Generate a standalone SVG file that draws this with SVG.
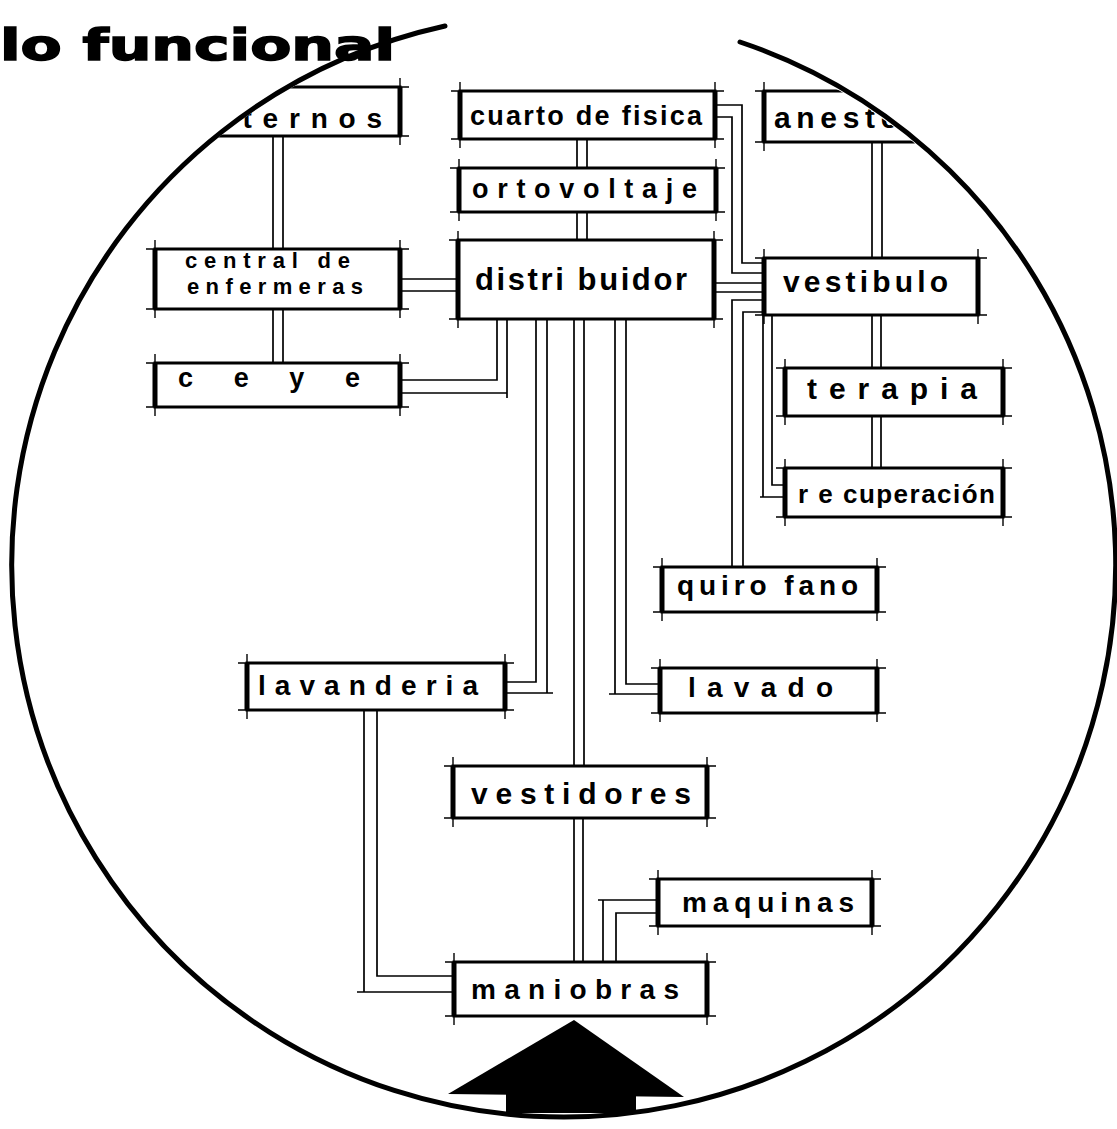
<svg xmlns="http://www.w3.org/2000/svg" width="1117" height="1129" viewBox="0 0 1117 1129">
<style>
.box{fill:#fff;stroke:#000;stroke-width:3}
.side{fill:none;stroke:#000;stroke-width:5}
.tick{fill:none;stroke:#000;stroke-width:1.4}
.wire{fill:none;stroke:#000;stroke-width:1.7}
.lbl{font-family:"Liberation Sans",Arial,sans-serif;font-weight:bold;fill:#000}
.title{font-family:"DejaVu Sans","Liberation Sans",sans-serif;font-weight:bold;fill:#000;stroke:#000;stroke-width:1.5}
</style>
<defs>
<clipPath id="inCircle"><circle cx="563" cy="565" r="549"/></clipPath>
</defs>
<rect x="0" y="0" width="1117" height="1129" fill="#fff"/>

<g id="connectors">
<path class="wire" d="M273 136V249M283 136V249"/>
<path class="wire" d="M273 309V363M283 309V363"/>
<path class="wire" d="M400 279H458M400 291H458"/>
<path class="wire" d="M577 139V168M587 139V168"/>
<path class="wire" d="M577 212V240M587 212V240"/>
<path class="wire" d="M715 105H742V263H764M715 117H732V273H764"/>
<path class="wire" d="M714 283H764M714 292H764"/>
<path class="wire" d="M764 300H732V567M764 312H743V567"/>
<path class="wire" d="M872 142V258M882 142V258"/>
<path class="wire" d="M872 315V368M881 315V368"/>
<path class="wire" d="M872 416V468M881 416V468"/>
<path class="wire" d="M772 315V485H785M763 315V497H785M760 497H763"/>
<path class="wire" d="M497 319V380H400M507 319V393H400M507 393V398"/>
<path class="wire" d="M536 319V682H505M547 319V693H505M547 693H553"/>
<path class="wire" d="M574 319V766M584 319V766"/>
<path class="wire" d="M615 319V694H660M626 319V684H660M609 694H615"/>
<path class="wire" d="M574 818V962M583 818V962"/>
<path class="wire" d="M658 900H603V962M658 913H616V962M598 900H603"/>
<path class="wire" d="M377 710V976H454M364 710V992H454M357 992H364"/>
</g>

<g id="node-internos" clip-path="url(#inCircle)">
<rect class="box" x="160" y="87" width="240" height="49"/>
<path class="tick" d="M151 87H409M151 136H409M160 78V145M400 78V145"/>
<path class="side" d="M160 87V136M400 87V136"/>
<text class="lbl" x="196" y="128" font-size="28" textLength="186" lengthAdjust="spacing">internos</text>
</g>

<g id="node-cuarto">
<rect class="box" x="460" y="91" width="255" height="48"/>
<path class="tick" d="M451 91H724M451 139H724M460 82V148M715 82V148"/>
<path class="side" d="M460 91V139M715 91V139"/>
<text class="lbl" x="470" y="125" font-size="27" textLength="232" lengthAdjust="spacing">cuarto de fisica</text>
</g>

<g id="node-ortovoltaje">
<rect class="box" x="459" y="168" width="257" height="44"/>
<path class="tick" d="M450 168H725M450 212H725M459 159V221M716 159V221"/>
<path class="side" d="M459 168V212M716 168V212"/>
<text class="lbl" x="472" y="198" font-size="27" textLength="225" lengthAdjust="spacing">ortovoltaje</text>
</g>

<g id="node-distribuidor">
<rect class="box" x="458" y="240" width="256" height="79"/>
<path class="tick" d="M449 240H723M449 319H723M458 231V328M714 231V328"/>
<path class="side" d="M458 240V319M714 240V319"/>
<text class="lbl" x="475" y="290" font-size="31" textLength="212" lengthAdjust="spacing">distri buidor</text>
</g>

<g id="node-anestesia" clip-path="url(#inCircle)">
<rect class="box" x="764" y="91" width="246" height="51"/>
<path class="tick" d="M755 91H1019M755 142H1019M764 82V151M1010 82V151"/>
<path class="side" d="M764 91V142M1010 91V142"/>
<text class="lbl" x="774" y="128" font-size="30" textLength="182" lengthAdjust="spacing">anestesia</text>
</g>

<g id="node-vestibulo">
<rect class="box" x="764" y="258" width="214" height="57"/>
<path class="tick" d="M755 258H987M755 315H987M764 249V324M978 249V324"/>
<path class="side" d="M764 258V315M978 258V315"/>
<text class="lbl" x="783" y="292" font-size="30" textLength="165" lengthAdjust="spacing">vestibulo</text>
</g>

<g id="node-terapia">
<rect class="box" x="785" y="368" width="218" height="48"/>
<path class="tick" d="M776 368H1012M776 416H1012M785 359V425M1003 359V425"/>
<path class="side" d="M785 368V416M1003 368V416"/>
<text class="lbl" x="807" y="399" font-size="30" textLength="170" lengthAdjust="spacing">terapia</text>
</g>

<g id="node-recuperacion">
<rect class="box" x="785" y="468" width="218" height="49"/>
<path class="tick" d="M776 468H1012M776 517H1012M785 459V526M1003 459V526"/>
<path class="side" d="M785 468V517M1003 468V517"/>
<text class="lbl" x="798" y="503" font-size="26" textLength="197" lengthAdjust="spacing">r e cuperación</text>
</g>

<g id="node-central">
<rect class="box" x="155" y="249" width="245" height="60"/>
<path class="tick" d="M146 249H409M146 309H409M155 240V318M400 240V318"/>
<path class="side" d="M155 249V309M400 249V309"/>
<text class="lbl" x="185" y="268" font-size="22" textLength="165" lengthAdjust="spacing">central de</text>
<text class="lbl" x="187" y="294" font-size="22" textLength="176" lengthAdjust="spacing">enfermeras</text>
</g>

<g id="node-ceye">
<rect class="box" x="155" y="363" width="245" height="44"/>
<path class="tick" d="M146 363H409M146 407H409M155 354V416M400 354V416"/>
<path class="side" d="M155 363V407M400 363V407"/>
<text class="lbl" x="178" y="387" font-size="27" textLength="182" lengthAdjust="spacing">c e y e</text>
</g>

<g id="node-quirofano">
<rect class="box" x="662" y="567" width="215" height="45"/>
<path class="tick" d="M653 567H886M653 612H886M662 558V621M877 558V621"/>
<path class="side" d="M662 567V612M877 567V612"/>
<text class="lbl" x="677" y="595" font-size="28" textLength="181" lengthAdjust="spacing">quiro fano</text>
</g>

<g id="node-lavado">
<rect class="box" x="660" y="668" width="217" height="45"/>
<path class="tick" d="M651 668H886M651 713H886M660 659V722M877 659V722"/>
<path class="side" d="M660 668V713M877 668V713"/>
<text class="lbl" x="688" y="697" font-size="28" textLength="145" lengthAdjust="spacing">lavado</text>
</g>

<g id="node-lavanderia">
<rect class="box" x="247" y="663" width="258" height="47"/>
<path class="tick" d="M238 663H514M238 710H514M247 654V719M505 654V719"/>
<path class="side" d="M247 663V710M505 663V710"/>
<text class="lbl" x="258" y="695" font-size="28" textLength="220" lengthAdjust="spacing">lavanderia</text>
</g>

<g id="node-vestidores">
<rect class="box" x="453" y="766" width="254" height="52"/>
<path class="tick" d="M444 766H716M444 818H716M453 757V827M707 757V827"/>
<path class="side" d="M453 766V818M707 766V818"/>
<text class="lbl" x="471" y="804" font-size="30" textLength="220" lengthAdjust="spacing">vestidores</text>
</g>

<g id="node-maquinas">
<rect class="box" x="658" y="879" width="214" height="47"/>
<path class="tick" d="M649 879H881M649 926H881M658 870V935M872 870V935"/>
<path class="side" d="M658 879V926M872 879V926"/>
<text class="lbl" x="682" y="912" font-size="28" textLength="172" lengthAdjust="spacing">maquinas</text>
</g>

<g id="node-maniobras">
<rect class="box" x="454" y="962" width="253" height="54"/>
<path class="tick" d="M445 962H716M445 1016H716M454 953V1025M707 953V1025"/>
<path class="side" d="M454 962V1016M707 962V1016"/>
<text class="lbl" x="471" y="999" font-size="28" textLength="208" lengthAdjust="spacing">maniobras</text>
</g>

<g id="entry-arrow">
<polygon points="574,1020 448,1094 684,1097" fill="#000"/>
<rect x="506" y="1093" width="130" height="20" fill="#000"/>
</g>

<g id="boundary">
<path d="M740 42A552 552 0 1 1 445 26" fill="none" stroke="#000" stroke-width="5" stroke-linecap="round"/>
</g>

<g id="title">
<text class="title" x="0" y="60" font-size="42" textLength="395" lengthAdjust="spacingAndGlyphs">lo funcional</text>
</g>
</svg>
